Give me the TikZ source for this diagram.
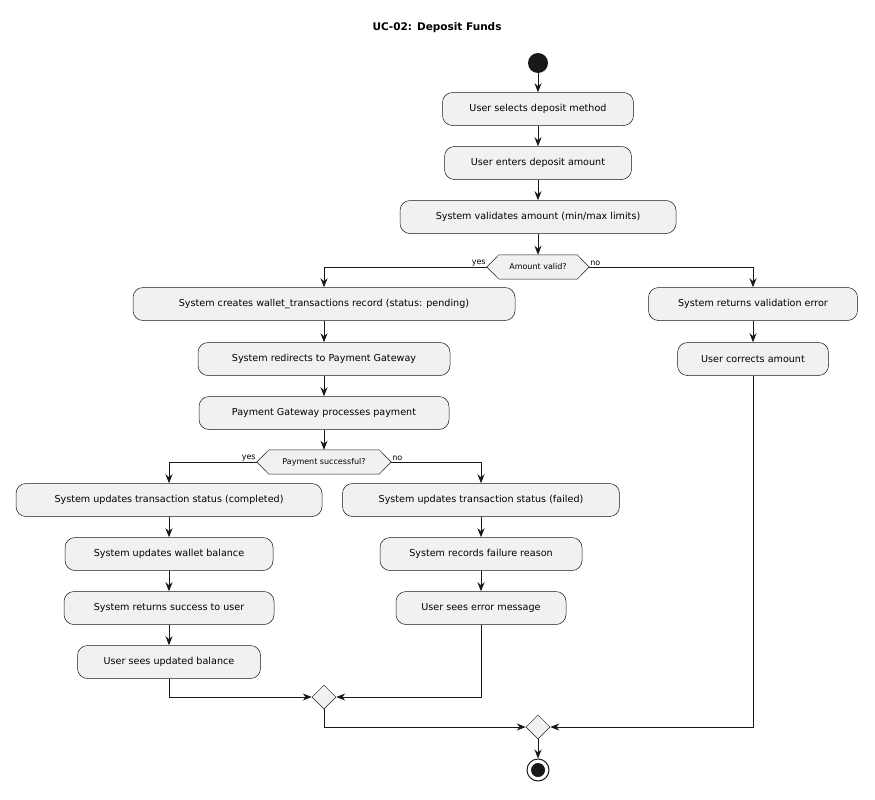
\documentclass[tikz,border=0pt]{standalone}
\usepackage{fontspec}
\setmainfont{DejaVu Sans}
\usetikzlibrary{calc,shapes.geometric,arrows.meta}
\definecolor{bx}{HTML}{F1F1F1}
\definecolor{ln}{HTML}{181818}
\begin{document}
\begin{tikzpicture}[x=1pt,y=-1pt,
  act/.style={draw=ln,fill=bx,rounded corners=10pt,minimum height=33pt,inner sep=0pt,font=\fontsize{9.6}{11}\selectfont,line width=0.5pt},
  hx/.style={minimum height=24pt,inner sep=0pt,font=\fontsize{8}{10}\selectfont},
  mg/.style={draw=ln,fill=bx,diamond,minimum width=24pt,minimum height=24pt,inner sep=0pt,line width=0.5pt},
  fl/.style={-{Stealth[length=9pt,width=7pt]},draw=ln,line width=0.8pt},
  lb/.style={font=\fontsize{8}{10}\selectfont,inner sep=1pt}]
\useasboundingbox (0,0) rectangle (875,800);
\node[font=\bfseries\fontsize{10.5}{12}\selectfont] (t) at (437,28) {UC-02: Deposit Funds};
\node[circle,fill=ln,minimum size=20pt,inner sep=0pt] (s) at (538,63) {};
\node[act,minimum width=191pt] (a1) at (538,109) {User selects deposit method};
\node[act,minimum width=187pt] (a2) at (538,163) {User enters deposit amount};
\node[act,minimum width=276pt] (a3) at (538,217) {System validates amount (min/max limits)};
\node[hx,minimum width=102pt] (d1) at (538,267) {Amount valid?};
\draw[draw=ln,fill=bx,line width=0.5pt] (d1.west) -- ($(d1.north west)+(12,0)$) -- ($(d1.north east)+(-12,0)$) -- (d1.east) -- ($(d1.south east)+(-12,0)$) -- ($(d1.south west)+(12,0)$) -- cycle;
\node[hx] at (d1) {Amount valid?};
\node[act,minimum width=382pt] (b1) at (324,304) {System creates wallet\_transactions record (status: pending)};
\node[act,minimum width=252pt] (b2) at (324,359) {System redirects to Payment Gateway};
\node[act,minimum width=250pt] (b3) at (324,413) {Payment Gateway processes payment};
\node[hx,minimum width=134pt] (d2) at (324,462) {Payment successful?};
\draw[draw=ln,fill=bx,line width=0.5pt] (d2.west) -- ($(d2.north west)+(12,0)$) -- ($(d2.north east)+(-12,0)$) -- (d2.east) -- ($(d2.south east)+(-12,0)$) -- ($(d2.south west)+(12,0)$) -- cycle;
\node[hx] at (d2) {Payment successful?};
\node[act,minimum width=306pt] (c1) at (169,500) {System updates transaction status (completed)};
\node[act,minimum width=208pt] (c2) at (169,554) {System updates wallet balance};
\node[act,minimum width=210pt] (c3) at (169,608) {System returns success to user};
\node[act,minimum width=183pt] (c4) at (169,662) {User sees updated balance};
\node[act,minimum width=277pt] (e1) at (481,500) {System updates transaction status (failed)};
\node[act,minimum width=202pt] (e2) at (481,554) {System records failure reason};
\node[act,minimum width=170pt] (e3) at (481,608) {User sees error message};
\node[mg] (m1) at (324,697) {};
\node[act,minimum width=209pt] (r1) at (753,304) {System returns validation error};
\node[act,minimum width=151pt] (r2) at (753,359) {User corrects amount};
\node[mg] (m2) at (538,727) {};
\node[circle,draw=ln,line width=1pt,minimum size=22pt,inner sep=0pt] (en) at (538,770) {};
\node[circle,fill=ln,minimum size=14pt,inner sep=0pt] at (en) {};
\draw[fl] (s) -- (a1);
\draw[fl] (a1) -- (a2);
\draw[fl] (a2) -- (a3);
\draw[fl] (a3) -- (d1);
\draw[fl] (d1.west) -| (b1.north);
\draw[fl] (d1.east) -| (r1.north);
\node[lb,anchor=south east] at (d1.west) {yes};
\node[lb,anchor=south west] at (d1.east) {no};
\draw[fl] (b1) -- (b2);
\draw[fl] (b2) -- (b3);
\draw[fl] (b3) -- (d2);
\draw[fl] (d2.west) -| (c1.north);
\draw[fl] (d2.east) -| (e1.north);
\node[lb,anchor=south east] at (d2.west) {yes};
\node[lb,anchor=south west] at (d2.east) {no};
\draw[fl] (c1) -- (c2);
\draw[fl] (c2) -- (c3);
\draw[fl] (c3) -- (c4);
\draw[fl] (e1) -- (e2);
\draw[fl] (e2) -- (e3);
\draw[fl] (c4.south) |- (m1.west);
\draw[fl] (e3.south) |- (m1.east);
\draw[fl] (r1) -- (r2);
\draw[fl] (m1.south) |- (m2.west);
\draw[fl] (r2.south) |- (m2.east);
\draw[fl] (m2) -- (en);
\end{tikzpicture}
\end{document}
